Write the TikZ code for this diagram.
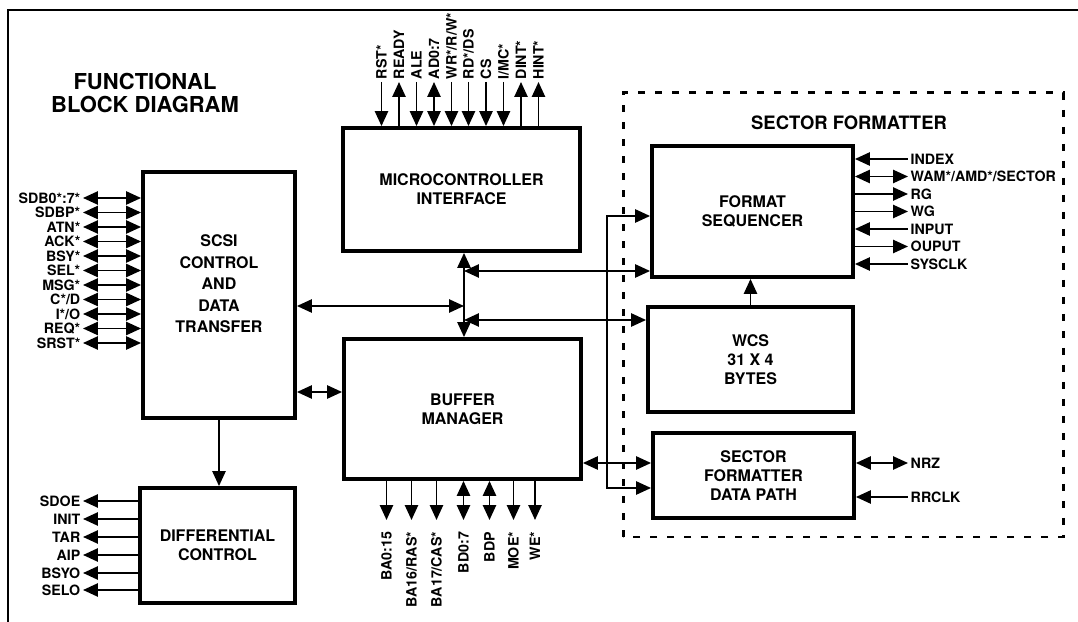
\documentclass[tikz,border=0pt]{standalone}
\usepackage{fontspec}
\setmainfont{TeX Gyre Heros}
\usepackage{tikz}
\usetikzlibrary{arrows.meta}

\newcommand{\blockfont}{\fontsize{9.1}{10.8}\selectfont\bfseries}
\newcommand{\pinfont}{\fontsize{8.1}{9}\selectfont\bfseries}

\begin{document}
\begin{tikzpicture}[>={Triangle[length=8.5pt,width=7.5pt]}, line width=1.1pt]
		% Define styles for the blocks and the pin labels
		\tikzset{block/.style={draw, line width=2.2pt, align=center, font=\blockfont, inner sep=2pt}}
		\tikzset{pinlabel/.style={font=\pinfont, inner sep=1pt}}
		\tikzset{toppin/.style={pinlabel, rotate=90, anchor=west}}
		\tikzset{botpin/.style={pinlabel, rotate=90, anchor=east, inner xsep=0.22cm}}
		
		% Fix the page size
		\useasboundingbox (0,0) rectangle (21.56,12.44);
		
		% Draw the outer frame
		\draw[line width=0.9pt] (0.16,0) -- (0.16,12.24) -- (21.56,12.24);
		
		% Add the titles
		\node[align=center, font=\fontsize{12.5}{13.1}\selectfont\bfseries] (title) at (2.9,10.58) {FUNCTIONAL\\BLOCK DIAGRAM};
		\draw[line width=1.7pt, dash pattern=on 0.14cm off 0.2cm] (12.46,1.70) rectangle (21.26,10.58);
		\node[font=\fontsize{10.5}{12}\selectfont\bfseries] (sftitle) at (16.98,9.98) {SECTOR FORMATTER};
		
		% Draw the blocks
		\node[block, minimum width=3.04cm, minimum height=4.92cm] (scsi) at (4.38,6.54) {};
		\node[align=center, font=\fontsize{9.1}{12.2}\selectfont\bfseries] (scsitext) at (4.38,6.76) {SCSI\\CONTROL\\AND\\DATA\\TRANSFER};
		\node[block, minimum width=3.1cm, minimum height=2.3cm] (diff) at (4.35,1.53) {DIFFERENTIAL\\CONTROL};
		\node[block, minimum width=4.74cm, minimum height=2.46cm] (micro) at (9.23,8.65) {MICROCONTROLLER\\INTERFACE};
		\node[block, minimum width=4.74cm, minimum height=2.8cm] (buffer) at (9.25,4.26) {BUFFER\\MANAGER};
		\node[block, minimum width=4.02cm, minimum height=2.62cm] (fs) at (15.05,8.21) {FORMAT\\SEQUENCER};
		\node[block, minimum width=4.1cm, minimum height=2.1cm] (wcs) at (15.01,5.25) {WCS\\31 X 4\\BYTES};
		\node[block, minimum width=4.02cm, minimum height=1.7cm] (sfdp) at (15.07,2.93) {SECTOR\\FORMATTER\\DATA PATH};
		
		% SCSI bus pins
		\node[pinlabel, anchor=east] (sdb) at (1.66,8.48) {SDB0*:7*};
		\node[pinlabel, anchor=east] (sdbp) at (1.66,8.19) {SDBP*};
		\node[pinlabel, anchor=east] (atn) at (1.66,7.90) {ATN*};
		\node[pinlabel, anchor=east] (ack) at (1.66,7.61) {ACK*};
		\node[pinlabel, anchor=east] (bsy) at (1.66,7.32) {BSY*};
		\node[pinlabel, anchor=east] (sel) at (1.66,7.03) {SEL*};
		\node[pinlabel, anchor=east] (msg) at (1.66,6.74) {MSG*};
		\node[pinlabel, anchor=east] (cd) at (1.66,6.45) {C*/D};
		\node[pinlabel, anchor=east] (io) at (1.66,6.16) {I*/O};
		\node[pinlabel, anchor=east] (req) at (1.66,5.87) {REQ*};
		\node[pinlabel, anchor=east] (srst) at (1.66,5.58) {SRST*};
		\draw[<->] (sdb.east) -- (sdb.east -| scsi.west);
		\draw[<->] (sdbp.east) -- (sdbp.east -| scsi.west);
		\draw[<->] (atn.east) -- (atn.east -| scsi.west);
		\draw[<->] (ack.east) -- (ack.east -| scsi.west);
		\draw[<->] (bsy.east) -- (bsy.east -| scsi.west);
		\draw[<->] (sel.east) -- (sel.east -| scsi.west);
		\draw[<->] (msg.east) -- (msg.east -| scsi.west);
		\draw[<->] (cd.east) -- (cd.east -| scsi.west);
		\draw[<->] (io.east) -- (io.east -| scsi.west);
		\draw[<->] (req.east) -- (req.east -| scsi.west);
		\draw[<->] (srst.east) -- (srst.east -| scsi.west);
		
		% Differential control pins
		\node[pinlabel, anchor=east] (sdoe) at (1.66,2.42) {SDOE};
		\node[pinlabel, anchor=east] (init) at (1.66,2.06) {INIT};
		\node[pinlabel, anchor=east] (tar) at (1.66,1.70) {TAR};
		\node[pinlabel, anchor=east] (aip) at (1.66,1.34) {AIP};
		\node[pinlabel, anchor=east] (bsyo) at (1.66,0.98) {BSYO};
		\node[pinlabel, anchor=east] (selo) at (1.66,0.64) {SELO};
		\draw[->] (sdoe.east -| diff.west) -- (sdoe.east);
		\draw[->] (init.east -| diff.west) -- (init.east);
		\draw[->] (tar.east -| diff.west) -- (tar.east);
		\draw[->] (aip.east -| diff.west) -- (aip.east);
		\draw[->] (bsyo.east -| diff.west) -- (bsyo.east);
		\draw[->] (selo.east -| diff.west) -- (selo.east);
		
		% Microcontroller pins
		\node[toppin] (rst) at (7.63,10.80) {RST*};
		\node[toppin] (ready) at (7.98,10.80) {READY};
		\node[toppin] (ale) at (8.33,10.80) {ALE};
		\node[toppin] (ad) at (8.68,10.80) {AD0:7};
		\node[toppin] (wr) at (9.03,10.80) {WR*/R/W*};
		\node[toppin] (rd) at (9.37,10.80) {RD*/DS};
		\node[toppin] (cs) at (9.72,10.80) {CS};
		\node[toppin] (imc) at (10.07,10.80) {I/MC*};
		\node[toppin] (dint) at (10.42,10.80) {DINT*};
		\node[toppin] (hint) at (10.77,10.80) {HINT*};
		\draw[->] (rst.west) -- (rst.west |- micro.north);
		\draw[<-] (ready.west) -- (ready.west |- micro.north);
		\draw[->] (ale.west) -- (ale.west |- micro.north);
		\draw[<->] (ad.west) -- (ad.west |- micro.north);
		\draw[->] (wr.west) -- (wr.west |- micro.north);
		\draw[->] (rd.west) -- (rd.west |- micro.north);
		\draw[->] (cs.west) -- (cs.west |- micro.north);
		\draw[->] (imc.west) -- (imc.west |- micro.north);
		\draw[<-] (dint.west) -- (dint.west |- micro.north);
		\draw[<-] (hint.west) -- (hint.west |- micro.north);
		
		% Buffer pins
		\node[botpin] (ba) at (7.73,2.04) {BA0:15};
		\node[botpin] (ras) at (8.23,2.04) {BA16/RAS*};
		\node[botpin] (cas) at (8.73,2.04) {BA17/CAS*};
		\node[botpin] (bd) at (9.27,2.04) {BD0:7};
		\node[botpin] (bdp) at (9.79,2.04) {BDP};
		\node[botpin] (moe) at (10.27,2.04) {MOE*};
		\node[botpin] (we) at (10.70,2.04) {WE*};
		\draw[->] (ba.east |- buffer.south) -- (ba.east);
		\draw[->] (ras.east |- buffer.south) -- (ras.east);
		\draw[->] (cas.east |- buffer.south) -- (cas.east);
		\draw[<->] (bd.east |- buffer.south) -- (bd.east);
		\draw[<->] (bdp.east |- buffer.south) -- (bdp.east);
		\draw[->] (moe.east |- buffer.south) -- (moe.east);
		\draw[->] (we.east |- buffer.south) -- (we.east);
		
		% Format sequencer pins
		\node[pinlabel, anchor=west] (index) at (18.16,9.26) {INDEX};
		\node[pinlabel, anchor=west] (wam) at (18.16,8.91) {WAM*/AMD*/SECTOR};
		\node[pinlabel, anchor=west] (rg) at (18.16,8.56) {RG};
		\node[pinlabel, anchor=west] (wg) at (18.16,8.21) {WG};
		\node[pinlabel, anchor=west] (input) at (18.16,7.86) {INPUT};
		\node[pinlabel, anchor=west] (ouput) at (18.16,7.51) {OUPUT};
		\node[pinlabel, anchor=west] (sysclk) at (18.16,7.16) {SYSCLK};
		\draw[<-] (index.west -| fs.east) -- (index.west);
		\draw[<->] (wam.west -| fs.east) -- (wam.west);
		\draw[->] (rg.west -| fs.east) -- (rg.west);
		\draw[->] (wg.west -| fs.east) -- (wg.west);
		\draw[<-] (input.west -| fs.east) -- (input.west);
		\draw[->] (ouput.west -| fs.east) -- (ouput.west);
		\draw[<-] (sysclk.west -| fs.east) -- (sysclk.west);
		
		% Data path pins
		\node[pinlabel, anchor=west] (nrz) at (18.16,3.18) {NRZ};
		\node[pinlabel, anchor=west] (rrclk) at (18.16,2.50) {RRCLK};
		\draw[<->] (nrz.west -| sfdp.east) -- (nrz.west);
		\draw[<-] (rrclk.west -| sfdp.east) -- (rrclk.west);
		
		% Internal bus between the microcontroller and the buffer
		\coordinate (busfs) at (9.28,7.02);
		\coordinate (busscsi) at (9.28,6.32);
		\coordinate (buswcs) at (9.28,6.04);
		\draw[<->] (busfs |- micro.south) -- (busfs |- buffer.north);
		\draw[<->] (busfs) -- (busfs -| fs.west);
		\draw[<->] (buswcs) -- (buswcs -| wcs.west);
		\draw[<->] (busscsi -| scsi.east) -- (busscsi);
		
		% Other links
		\coordinate (scsibuf) at (6.0,4.60);
		\draw[<->] (scsibuf -| scsi.east) -- (scsibuf -| buffer.west);
		\draw[->] (scsi.south) -- (scsi.south |- diff.north);
		\draw[->] (wcs.north) -- (wcs.north |- fs.south);
		\coordinate (fsbus) at (12.14,8.12);
		\coordinate (dpbus) at (12.14,2.68);
		\draw[<->] (fsbus -| fs.west) -- (fsbus) -- (dpbus) -- (dpbus -| sfdp.west);
		\coordinate (bufdp) at (12.0,3.18);
		\draw[<->] (bufdp -| buffer.east) -- (bufdp -| sfdp.west);
	\end{tikzpicture}
\end{document}
